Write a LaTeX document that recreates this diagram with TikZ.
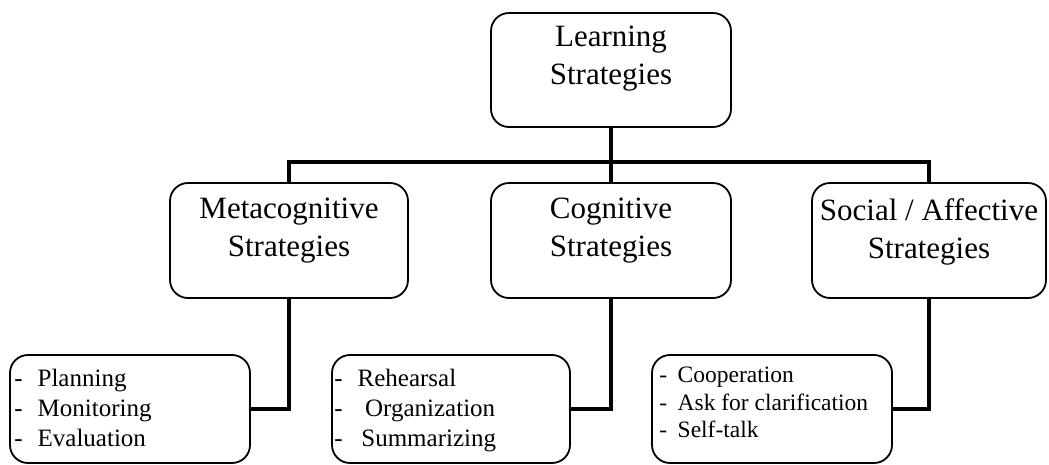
\documentclass[tikz,border=0pt]{standalone}
\usepackage{fontspec}
\setmainfont{Liberation Serif}

% one list entry: dash, gap, word
\newcommand{\itm}[2][0.6em]{-\hspace{#1}#2}

\begin{document}
\begin{tikzpicture}[x=1pt, y=-1pt,
    stratbox/.style={draw, rounded corners=18pt, line width=1.8pt, minimum width=240pt, minimum height=115pt},
    listbox/.style={draw, rounded corners=18pt, line width=1.8pt, minimum width=240pt, minimum height=108pt},
    bigtext/.style={anchor=north, align=center, inner sep=0pt, font=\fontsize{31}{38}\selectfont},
    listtext/.style={anchor=north west, align=left, inner sep=0pt, font=\fontsize{25}{30}\selectfont},
    link/.style={line width=4pt}]
  \useasboundingbox (0,0) rectangle (1049,464);

  % Top
  \node[stratbox, minimum height=114pt] (learn) at (611,70) {};
  \node[bigtext] (learntxt) at ([yshift=-14pt]learn.north) {Learning\\Strategies};

  % Strategy groups
  \node[stratbox, minimum width=238pt] (meta) at (289,240.5) {};
  \node[stratbox] (cog) at (611,240.5) {};
  \node[stratbox, minimum width=234pt] (soc) at (929,240.5) {};
  \node[bigtext] (metatxt) at ([yshift=-16pt]meta.north) {Metacognitive\\Strategies};
  \node[bigtext] (cogtxt) at ([yshift=-16pt]cog.north) {Cognitive\\Strategies};
  \node[bigtext] (soctxt) at ([yshift=-16pt]soc.north) {Social / Affective\\Strategies};

  % Lists
  \node[listbox] (plan) at (130,409) {};
  \node[listbox, minimum width=238pt] (reh) at (451,409) {};
  \node[listbox] (coop) at (772,409) {};
  \node[listtext] (plantxt) at ([xshift=5pt, yshift=-15pt]plan.north west)
    {\itm{Planning}\\\itm{Monitoring}\\\itm{Evaluation}};
  \node[listtext] (rehtxt) at ([xshift=3pt, yshift=-15pt]reh.north west)
    {\itm{Rehearsal}\\\itm[0.9em]{Organization}\\\itm[0.75em]{Summarizing}};
  \node[listtext, font=\fontsize{23.5}{27.5}\selectfont] (cooptxt) at ([xshift=8pt, yshift=-13pt]coop.north west)
    {\itm[0.45em]{Cooperation}\\\itm[0.45em]{Ask for clarification}\\\itm[0.45em]{Self-talk}};

  % Connectors
  \coordinate (bar) at (611,162);
  \draw[link] (learn) -- (cog);
  \draw[link] (meta.north) |- (bar) -| (soc.north);
  \draw[link] (meta.south) |- (plan.east);
  \draw[link] (cog.south) |- (reh.east);
  \draw[link] (soc.south) |- (coop.east);
\end{tikzpicture}
\end{document}
